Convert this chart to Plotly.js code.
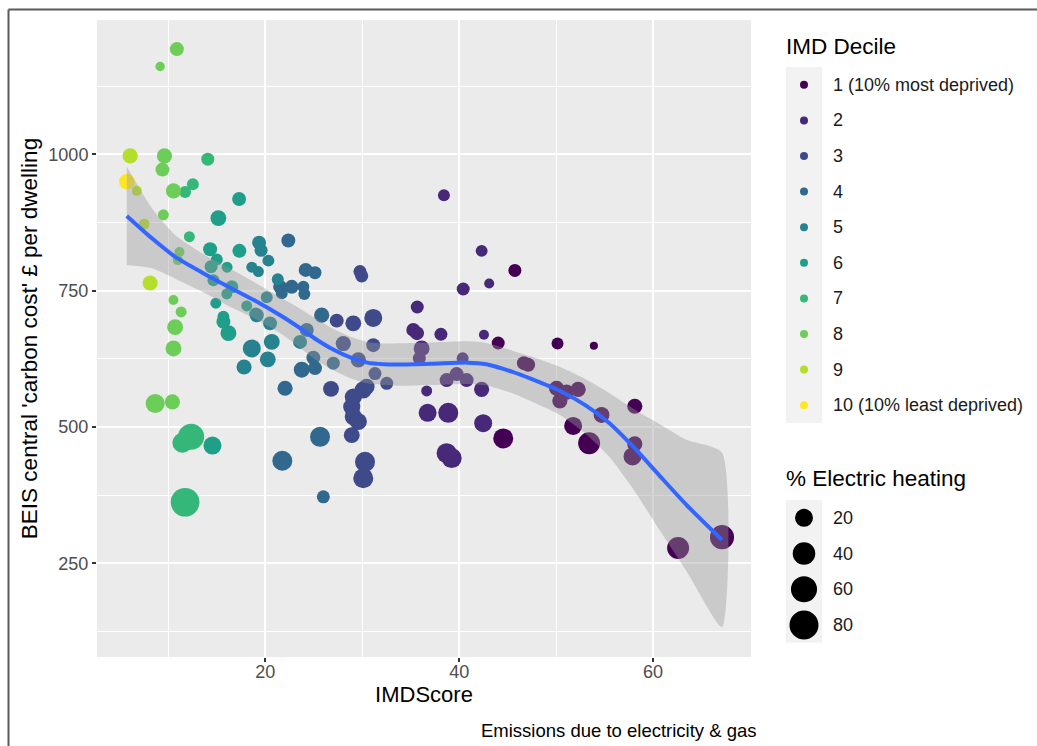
<!DOCTYPE html>
<html>
<head>
<meta charset="utf-8">
<script src="https://cdn.plot.ly/plotly-3.0.1.min.js"></script>
<style>
  html, body { margin: 0; padding: 0; background: #ffffff; }
  #chart { width: 1037px; height: 746px; }
</style>
</head>
<body>
<div id="chart"></div>
<script>
// ---------------- DATA ----------------
// IMD score (x), BEIS central carbon cost £ per dwelling (y), % electric heating (size), IMD decile (colour)
const imdScore = [
  10.87, 9.14, 6.05, 9.59, 9.38, 14.06, 5.71, 6.74, 10.52, 12.52,
  11.72, 17.29, 15.15, 9.48, 7.49, 12.16, 22.37, 14.30, 14.99, 17.32,
  19.35, 19.56, 20.31, 16.05, 18.60, 19.28, 11.13, 10.97, 8.11, 14.40,
  14.64, 16.54, 16.02, 14.89, 10.52, 11.31, 18.08, 20.14, 19.01, 15.67,
  24.16, 21.28, 21.52, 22.72, 23.92, 24.02, 21.69, 10.69, 10.52, 8.63,
  10.41, 12.34, 11.44, 14.54, 11.72, 15.67, 16.19, 18.60, 20.66, 20.25,
  17.80, 19.11, 20.48, 22.03, 21.75, 23.75, 38.42, 42.31, 45.74, 43.09,
  40.41, 25.12, 29.76, 29.94, 35.67, 35.26, 35.64, 38.11, 42.55, 44.02,
  31.13, 29.07, 27.36, 25.81, 24.27, 23.58, 28.04, 27.01, 29.59, 31.13,
  31.31, 32.52, 36.12, 35.88, 40.35, 38.70, 39.73, 40.76, 42.31, 36.64,
  46.67, 25.12, 26.77, 29.07, 30.10, 28.91, 29.07, 29.59, 28.91, 25.64,
  30.28, 30.10, 25.98, 36.74, 38.87, 42.47, 44.54, 38.70, 39.22, 30.45,
  24.95, 50.14, 53.89, 47.11, 50.04, 52.27, 50.38, 51.75, 53.40, 54.68,
  58.11, 58.11, 57.88, 62.58, 67.11, 51.07
];
const carbonCost = [
  1193, 1161, 997, 997, 972, 991, 950, 933, 933, 945,
  931, 918, 883, 889, 872, 849, 842, 826, 807, 823,
  838, 824, 805, 793, 793, 785, 821, 806, 764, 794,
  769, 757, 744, 727, 733, 711, 722, 738, 707, 702,
  788, 771, 757, 757, 757, 744, 745, 683, 644, 543,
  546, 482, 471, 466, 362, 693, 672, 644, 656, 624,
  610, 705, 690, 571, 438, 605, 925, 823, 787, 763,
  753, 783, 785, 777, 720, 678, 672, 670, 669, 654,
  700, 690, 695, 705, 678, 656, 653, 617, 623, 650,
  598, 580, 644, 626, 626, 586, 597, 586, 569, 566,
  617, 608, 570, 555, 568, 537, 519, 510, 485, 482,
  436, 406, 372, 526, 526, 507, 479, 452, 443, 574,
  627, 653, 649, 614, 571, 569, 548, 502, 470, 522,
  538, 469, 446, 278, 298, 564
];
const electricHeating = [
  8, 1, 11, 11, 8, 6, 13, 1.5, 11, 4,
  4, 8, 13, 2.6, 2.6, 2.6, 8, 8, 4, 8,
  8, 6, 4, 2.6, 2.6, 2.6, 1.5, 1.5, 11, 6,
  4, 6, 2.6, 2.6, 1.5, 2.6, 2.6, 4, 6, 4,
  8, 4, 8, 8, 4, 4, 4, 13, 13, 24,
  11, 60, 28, 20, 78, 8, 13, 20, 13, 13,
  11, 8, 8, 11, 28, 13, 4, 4, 6, 1.5,
  6, 6, 6, 6, 6, 8, 8, 6, 1.5, 6,
  20, 13, 8, 11, 8, 8, 11, 6, 11, 8,
  6, 6, 13, 6, 4, 8, 8, 8, 11, 2.6,
  8, 8, 13, 17, 17, 17, 17, 17, 13, 28,
  28, 28, 6, 20, 28, 20, 28, 28, 28, 13,
  8, 4, 0.2, 8, 11, 11, 11, 20, 37, 13,
  11, 11, 20, 37, 48, 11
];
const imdDecile = [
  8, 8, 9, 8, 8, 7, 10, 9, 8, 7,
  7, 6, 6, 8, 9, 7, 4, 6, 6, 6,
  5, 5, 5, 6, 5, 5, 8, 8, 9, 6,
  6, 6, 6, 6, 8, 8, 6, 5, 5, 6,
  4, 5, 4, 4, 4, 4, 4, 8, 8, 8,
  8, 7, 7, 6, 7, 6, 6, 5, 5, 5,
  5, 5, 5, 4, 4, 4, 2, 2, 1, 2,
  2, 4, 3, 3, 2, 2, 2, 2, 2, 1,
  3, 3, 3, 4, 4, 5, 3, 4, 3, 3,
  3, 3, 2, 2, 2, 2, 2, 2, 2, 2,
  1, 4, 3, 3, 3, 3, 3, 3, 3, 4,
  3, 3, 4, 2, 2, 2, 1, 2, 2, 3,
  4, 1, 1, 1, 1, 1, 1, 1, 1, 1,
  1, 1, 1, 1, 1, 1
];

// Loess smooth (fit, lower and upper 95% band)
const smoothX  = [5.7, 8.3, 10.7, 13.5, 16.2, 19, 21.7, 23.6, 25.3, 27, 28.7, 30.5, 32.2, 33.9, 37.3, 40.8, 42.8, 45.5, 47.3, 50.4, 53, 55.5, 58, 60.7, 63.5, 67.1];
const smoothY  = [887, 846, 812, 783, 757, 731, 703, 681, 660, 642, 628, 618, 615, 614.5, 616, 618, 615, 601, 589, 566, 540, 507, 463, 410, 356, 293];
const smoothHi = [977, 901, 852, 818, 792, 764, 736, 717, 698, 680, 666, 656, 653, 653.5, 655, 657, 654, 640, 630, 610, 588, 562, 533, 505, 476, 453];
const smoothLo = [797, 791, 772, 748, 722, 698, 670, 645, 622, 604, 590, 580, 577, 575.5, 577, 579, 576, 562, 548, 522, 488, 445, 385, 310, 234, 133];

const decileLabels = ['1 (10% most deprived)', '2', '3', '4', '5', '6', '7', '8', '9', '10 (10% least deprived)'];
const decileColors = ['#440154', '#482878', '#3E4A89', '#31688E', '#26828E', '#1F9E89', '#35B779', '#6DCD59', '#B4DE2C', '#FDE725'];
const sizeLegendValues = [20, 40, 60, 80];

const xTitle = 'IMDScore';
const yTitle = "BEIS central 'carbon cost' £ per dwelling";
const caption = 'Emissions due to electricity & gas';
const colourLegendTitle = 'IMD Decile';
const sizeLegendTitle = '% Electric heating';

// ---------------- STYLE / LAYOUT ----------------
const FONT = 'Liberation Sans, Arial, Helvetica, sans-serif';
function markerDiameter(v) { return 7 + 2.46 * Math.sqrt(v); }

const W = 1037, H = 746;
const M = { l: 97, r: 286, t: 20, b: 89 };
const plotW = W - M.l - M.r, plotH = H - M.t - M.b;
function px2x(px) { return (px - M.l) / plotW; }
function py2y(py) { return (H - M.b - py) / plotH; }

const traces = [];
for (let d = 1; d <= 10; d++) {
  const xs = [], ys = [], ss = [], vs = [];
  for (let i = 0; i < imdScore.length; i++) {
    if (imdDecile[i] === d) {
      xs.push(imdScore[i]); ys.push(carbonCost[i]);
      ss.push(markerDiameter(electricHeating[i])); vs.push(electricHeating[i]);
    }
  }
  traces.push({
    type: 'scatter', mode: 'markers', name: decileLabels[d - 1],
    x: xs, y: ys, customdata: vs, showlegend: false,
    marker: { color: decileColors[d - 1], size: ss, opacity: 1, line: { width: 0 } },
    hovertemplate: 'IMDScore %{x}<br>£%{y}<br>%{customdata}% electric<extra>' + decileLabels[d - 1] + '</extra>'
  });
}
// ribbon
traces.push({
  type: 'scatter', mode: 'lines', showlegend: false, hoverinfo: 'skip',
  x: smoothX.concat(smoothX.slice().reverse()),
  y: smoothHi.concat(smoothLo.slice().reverse()),
  fill: 'toself', fillcolor: 'rgba(153,153,153,0.4)',
  line: { width: 0, shape: 'spline', smoothing: 0.6 }
});
// smooth line
traces.push({
  type: 'scatter', mode: 'lines', showlegend: false, hoverinfo: 'skip',
  x: smoothX, y: smoothY,
  line: { color: '#3366FF', width: 4, shape: 'spline', smoothing: 0.6 }
});

const shapes = [];
const annotations = [];

// frame lines (left and top)
shapes.push({ type: 'line', xref: 'paper', yref: 'paper', x0: px2x(8.5), x1: px2x(1040), y0: py2y(9.5), y1: py2y(9.5), line: { color: '#5a5a5a', width: 2 } });
shapes.push({ type: 'line', xref: 'paper', yref: 'paper', x0: px2x(8.5), x1: px2x(8.5), y0: py2y(9.5), y1: py2y(750), line: { color: '#5a5a5a', width: 2 } });

// colour legend
const legX = 786, keyW = 36, labelX = 833;
annotations.push({ xref: 'paper', yref: 'paper', x: px2x(legX - 2), y: py2y(46), xanchor: 'left', yanchor: 'middle', showarrow: false, text: colourLegendTitle, font: { family: FONT, size: 22.5, color: '#000' } });
const cTop = 67, cStep = 35.6;
shapes.push({ type: 'rect', xref: 'paper', yref: 'paper', x0: px2x(legX), x1: px2x(legX + keyW), y0: py2y(cTop), y1: py2y(cTop + cStep * 10), fillcolor: '#F2F2F2', line: { width: 0 } });
for (let i = 0; i < 10; i++) {
  const cy = cTop + cStep * (i + 0.5);
  shapes.push({ type: 'circle', xref: 'paper', yref: 'paper', xsizemode: 'pixel', ysizemode: 'pixel', xanchor: px2x(legX + keyW / 2), yanchor: py2y(cy), x0: -4, x1: 4, y0: -4, y1: 4, fillcolor: decileColors[i], line: { width: 0 } });
  annotations.push({ xref: 'paper', yref: 'paper', x: px2x(labelX - 2), y: py2y(cy), xanchor: 'left', yanchor: 'middle', showarrow: false, text: decileLabels[i], font: { family: FONT, size: 18, color: '#1a1a1a' } });
}

// size legend
annotations.push({ xref: 'paper', yref: 'paper', x: px2x(legX - 2), y: py2y(479), xanchor: 'left', yanchor: 'middle', showarrow: false, text: sizeLegendTitle, font: { family: FONT, size: 22.5, color: '#000' } });
const sTop = 500, sStep = 35.7;
shapes.push({ type: 'rect', xref: 'paper', yref: 'paper', x0: px2x(legX), x1: px2x(legX + keyW), y0: py2y(sTop), y1: py2y(sTop + sStep * 4), fillcolor: '#F2F2F2', line: { width: 0 } });
sizeLegendValues.forEach((v, i) => {
  const cy = sTop + sStep * (i + 0.5);
  const r = markerDiameter(v) / 2;
  shapes.push({ type: 'circle', xref: 'paper', yref: 'paper', xsizemode: 'pixel', ysizemode: 'pixel', xanchor: px2x(legX + keyW / 2), yanchor: py2y(cy), x0: -r, x1: r, y0: -r, y1: r, fillcolor: '#000000', line: { width: 0 } });
  annotations.push({ xref: 'paper', yref: 'paper', x: px2x(labelX - 2), y: py2y(cy), xanchor: 'left', yanchor: 'middle', showarrow: false, text: String(v), font: { family: FONT, size: 18, color: '#1a1a1a' } });
});

// caption
annotations.push({ xref: 'paper', yref: 'paper', x: px2x(759), y: py2y(730), xanchor: 'right', yanchor: 'middle', showarrow: false, text: caption, font: { family: FONT, size: 18.5, color: '#000' } });

const axisCommon = {
  ticks: 'outside', ticklen: 4, tickwidth: 1.5, tickcolor: '#333333',
  tickfont: { family: FONT, size: 18, color: '#4D4D4D' },
  showgrid: true, gridcolor: '#FFFFFF', gridwidth: 1.6,
  zeroline: false, showline: false, automargin: false, fixedrange: true
};

const layout = {
  width: W, height: H,
  margin: { l: M.l, r: M.r, t: M.t, b: M.b, pad: 0 },
  paper_bgcolor: '#FFFFFF', plot_bgcolor: '#EBEBEB',
  font: { family: FONT, color: '#000' },
  showlegend: false,
  hovermode: 'closest',
  xaxis: Object.assign({}, axisCommon, {
    range: [2.63, 70.1], tick0: 0, dtick: 20, ticklabelstandoff: -6,
    minor: { tick0: 0, dtick: 10, showgrid: true, gridcolor: '#FFFFFF', gridwidth: 0.8, ticks: '' },
    title: { text: xTitle, font: { family: FONT, size: 22, color: '#000' }, standoff: 4 }
  }),
  yaxis: Object.assign({}, axisCommon, {
    range: [78.2, 1246.3], tick0: 0, dtick: 250,
    minor: { tick0: 0, dtick: 125, showgrid: true, gridcolor: '#FFFFFF', gridwidth: 0.8, ticks: '' },
    title: { text: yTitle, font: { family: FONT, size: 22.5, color: '#000' }, standoff: 4 }
  }),
  shapes: shapes,
  annotations: annotations
};

Plotly.newPlot('chart', traces, layout, { displayModeBar: false, responsive: false });
</script>
</body>
</html>
